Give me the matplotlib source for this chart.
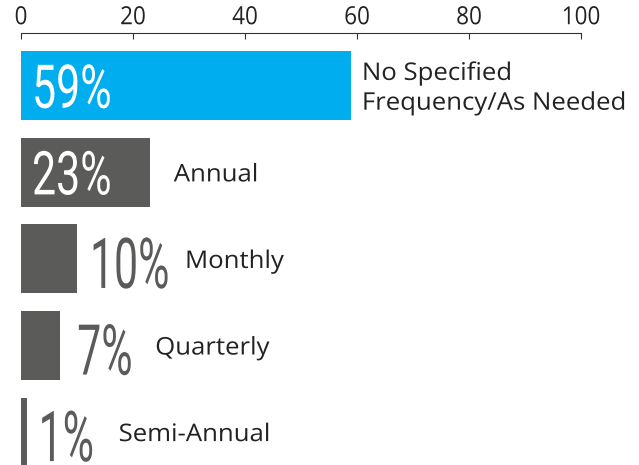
import matplotlib
matplotlib.use('Agg')
from matplotlib import pyplot as plt
from matplotlib.patheffects import AbstractPathEffect
from matplotlib.transforms import Affine2D
import numpy as np

# data
categories = ['No Specified\nFrequency/As Needed', 'Annual', 'Monthly', 'Quarterly', 'Semi-Annual']
values = [59, 23, 10, 7, 1]
pct_labels = ['59%', '23%', '10%', '7%', '1%']

blue = '#00aeef'
grey = '#5b5c5a'


class Squeeze(AbstractPathEffect):
    """scale glyphs horizontally (text stays text), about left edge or centre"""
    def __init__(self, sx, centre=False):
        super().__init__()
        self.sx = sx
        self.centre = centre

    def draw_path(self, renderer, gc, tpath, affine, rgbFace=None):
        c = 0
        if self.centre:
            ext = tpath.get_extents()
            c = (ext.x0 + ext.x1) / 2
        t = Affine2D().translate(-c, 0).scale(self.sx, 1).translate(c, 0)
        renderer.draw_path(gc, tpath, t + affine, rgbFace)


fig = plt.figure(figsize=(6.39, 4.65), dpi=100)
ax = fig.add_axes([21 / 639, 0, 560 / 639, 1 - 33 / 465])

ys = np.arange(len(values))
colors = [blue] + [grey] * (len(values) - 1)
ax.barh(ys, values, height=0.796, color=colors)

ax.set_xlim(0, 100)
ax.set_ylim(4.38, -0.61)
ax.xaxis.tick_top()
ax.set_xticks([0, 20, 40, 60, 80, 100])
ax.tick_params(axis='x', direction='in', length=4.5, width=0.8, color='#333333',
               labelsize=18, labelcolor='#222222', pad=2)
for lab in ax.get_xticklabels():
    lab.set_family(['Open Sans', 'DejaVu Sans'])
    lab.set_path_effects([Squeeze(0.9, centre=True)])
ax.set_yticks([])
for s in ['left', 'right', 'bottom']:
    ax.spines[s].set_visible(False)
ax.spines['top'].set_color('#333333')
ax.spines['top'].set_linewidth(0.8)

pct_font = dict(family=['Roboto', 'DejaVu Sans'], va='baseline', ha='left')
cat_font = dict(family=['Open Sans', 'DejaVu Sans'], fontsize=17.5, color='#222222',
                va='center', ha='left', linespacing=1.32,
                path_effects=[Squeeze(1.06)])

# label layout, in pixels
inside = [True, True, False, False, False]
pct_dx = [11, 11, 13, 17, 12]
cat_dx = [10.5, 24, 108, 95, 92]

for i, v in enumerate(values):
    if inside[i]:
        ax.annotate(pct_labels[i], xy=(0, i), xytext=(pct_dx[i], -22), textcoords='offset pixels',
                    color='white', fontsize=43.5, path_effects=[Squeeze(0.71)], **pct_font)
    else:
        ax.annotate(pct_labels[i], xy=(v, i), xytext=(pct_dx[i], -29), textcoords='offset pixels',
                    color=grey, fontsize=50.5, path_effects=[Squeeze(0.61)], **pct_font)
    ax.annotate(categories[i], xy=(v, i), xytext=(cat_dx[i], -3), textcoords='offset pixels',
                **cat_font)

fig.savefig('out.png', dpi=100)
